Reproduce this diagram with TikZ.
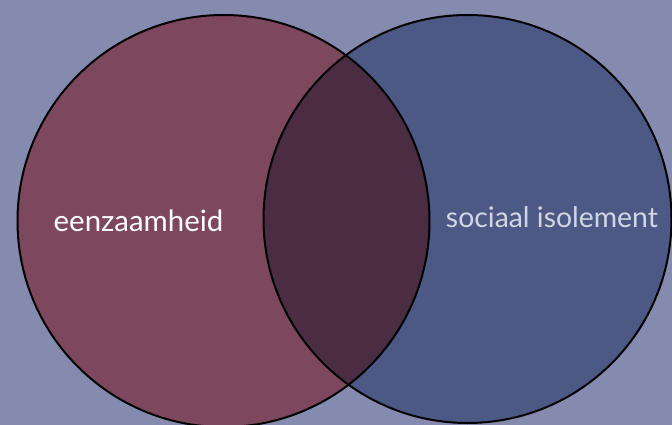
\documentclass[tikz,border=0pt]{standalone}
\usepackage{fontspec}
\setmainfont{Lato}
\definecolor{bgc}{HTML}{858AAF}
\definecolor{leftc}{HTML}{7D475D}
\definecolor{rightc}{HTML}{4D5985}
\definecolor{midc}{HTML}{4A2C43}
\definecolor{rtext}{HTML}{D2D5E4}
\tikzset{
  circ/.style={draw=black, line width=2pt},
  lbl/.style={font=\fontsize{29.4}{34}\selectfont, inner sep=0pt}
}
\begin{document}
\begin{tikzpicture}[x=1pt,y=-1pt]
\fill[bgc] (0,0) rectangle (672,425);
\useasboundingbox (0,0) rectangle (672,425);
\begin{scope}
\clip (0,0) rectangle (672,425);
\fill[leftc] (223.5,221) circle (206);
\fill[rightc] (467.5,219) circle (204);
\begin{scope}
\clip (223.5,221) circle (206);
\fill[midc] (467.5,219) circle (204);
\end{scope}
\draw[circ] (223.5,221) circle (206);
\draw[circ] (467.5,219) circle (204);
\end{scope}
\node[lbl, text=white] (a) at (138.5,221) {eenzaamheid};
\node[lbl, text=rtext, font=\fontsize{28.4}{33}\selectfont] (b) at (552,217) {sociaal isolement};
\end{tikzpicture}
\end{document}
